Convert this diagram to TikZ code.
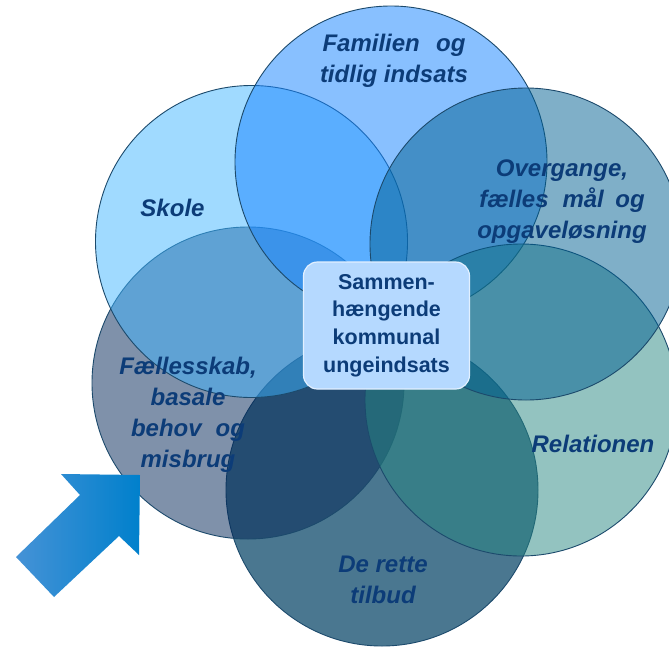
\documentclass[tikz,border=0pt]{standalone}
\usepackage{fontspec}
\setmainfont{Liberation Sans}
\definecolor{ringline}{HTML}{1C4A6C}
\definecolor{labtext}{HTML}{0C3C78}
\definecolor{hubfill}{HTML}{B5D9FF}
\definecolor{hubline}{HTML}{E2F0FF}
\definecolor{cRet}{HTML}{1D5574}
\definecolor{cFael}{HTML}{002355}
\definecolor{cSkole}{HTML}{41B5FF}
\definecolor{cFam}{HTML}{1B86FF}
\definecolor{cRel}{HTML}{278781}
\definecolor{cOver}{HTML}{005F91}
\definecolor{arrowA}{HTML}{4592D6}
\definecolor{arrowB}{HTML}{0080CC}
\begin{document}
\begin{tikzpicture}[x=1pt,y=-1pt,
  ring/.style={circle, minimum size=312pt, inner sep=0pt, draw=ringline, line width=0.9pt},
  lab/.style={font=\fontsize{24}{31}\selectfont\bfseries\itshape, text=labtext, align=center, inner sep=0pt},
  hub/.style={rounded corners=14pt, fill=hubfill, draw=hubline, line width=1.2pt, minimum width=166pt, minimum height=127pt, font=\fontsize{21.5}{27.7}\selectfont\bfseries, text=labtext, align=center, inner sep=0pt}]
\useasboundingbox (0,0) rectangle (669,646);
% circles (drawing order matters for the overlaps)
\node[ring, fill=cRet, fill opacity=0.8] (ret) at (382,490) {};
\node[ring, fill=cFael, fill opacity=0.5] (fael) at (248,383) {};
\node[ring, fill=cSkole, fill opacity=0.5] (skole) at (251.5,241.5) {};
\node[ring, fill=cFam, fill opacity=0.52] (fam) at (391,162) {};
\node[ring, fill=cRel, fill opacity=0.5] (rel) at (521,400) {};
\node[ring, fill=cOver, fill opacity=0.5] (over) at (526,244) {};
% centre box
\node[hub] (hub) at (386.5,325.5) {Sammen-\\hængende\\kommunal\\ungeindsats};
% labels
\node[lab] (tFam) at (394,61) {Familien\hspace{0.4em} og\\tidlig indsats};
\node[lab] (tSkole) at (172.5,208) {Skole};
\node[lab] (tOver) at (562,201.5) {Overgange,\\fælles\hspace{0.3em} mål\hspace{0.2em} og\\opgaveløsning};
\node[lab] (tRel) at (593,444) {Relationen};
\node[lab] (tFael) at (188,415) {Fællesskab,\\basale\\behov\hspace{0.3em} og\\misbrug};
\node[lab] (tRet) at (383,580) {De rette\\tilbud};
% block arrow
\shade[left color=arrowA, right color=arrowB] (16,557) -- (80,495) -- (61,474) -- (140,475) -- (139,555) -- (119,536) -- (54,597) -- cycle;
\end{tikzpicture}
\end{document}
